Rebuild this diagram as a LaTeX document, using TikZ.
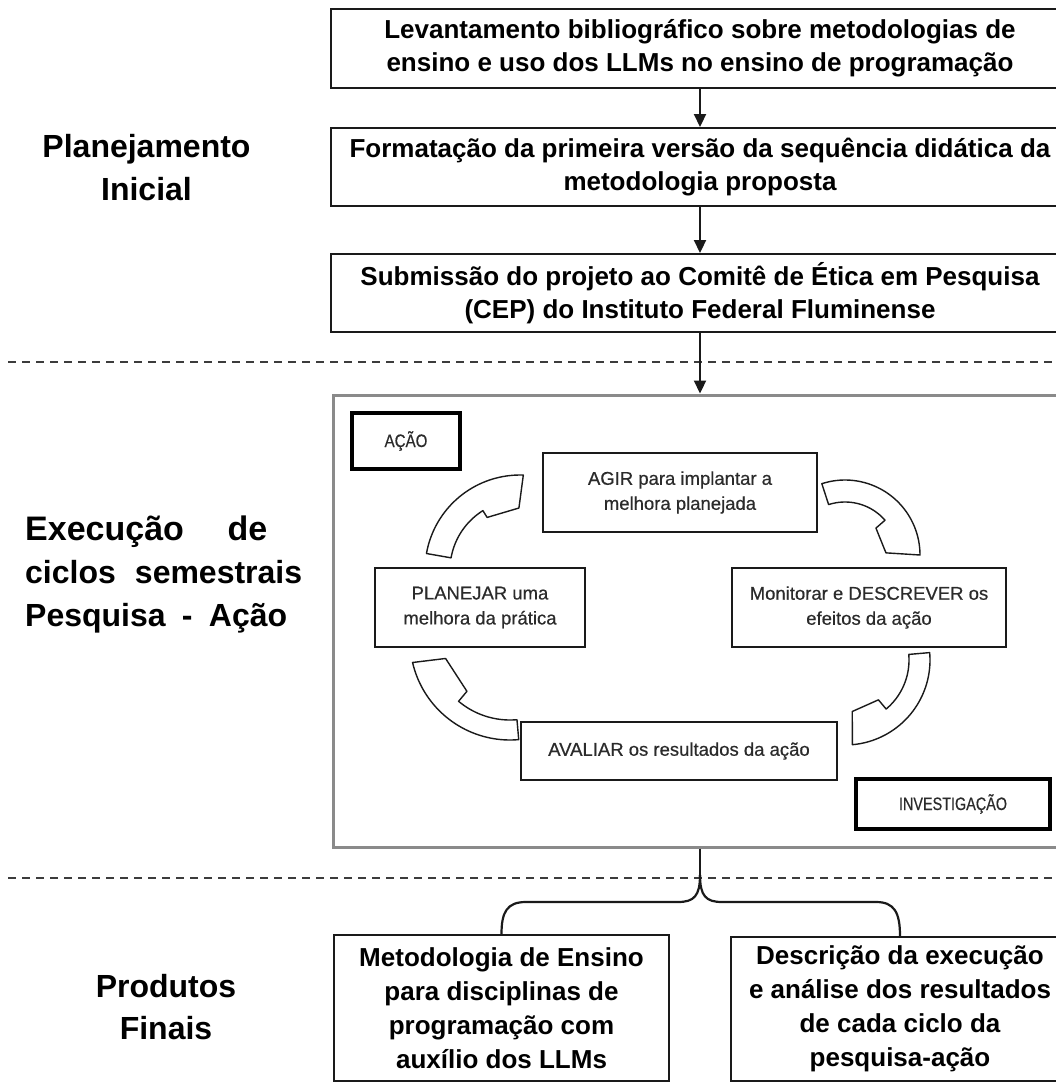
\documentclass[tikz,border=0pt]{standalone}
\usepackage{fontspec}
\usepackage{graphicx}
\setmainfont{Liberation Sans}
\newfontfamily\cycfont[FakeBold=0.5]{Liberation Sans}
\usetikzlibrary{arrows.meta}
\definecolor{boxgray}{HTML}{8A8A8A}
\definecolor{ink}{HTML}{1A1A1A}
\definecolor{cyctext}{HTML}{2B2B2B}
\tikzset{
  mainbox/.style={draw=ink, line width=2pt, fill=white, align=center,
    font=\fontsize{26}{33}\selectfont\bfseries, inner sep=0pt},
  flowarrow/.style={draw=ink, line width=2.2pt, -{Triangle[length=13pt,width=12pt]}},
  framebox/.style={draw=boxgray, line width=3pt, fill=white, inner sep=0pt},
  cycbox/.style={draw=ink, line width=2.5pt, fill=white, align=center,
    font=\cycfont\fontsize{18.5}{25}\selectfont, text=cyctext, inner sep=0pt},
  tagbox/.style={draw=black, line width=4.5pt, fill=white, inner sep=0pt,
    font=\cycfont\fontsize{18}{22}\selectfont, text=cyctext},
  sidelabel/.style={font=\fontsize{32}{43}\selectfont\bfseries, inner sep=0pt},
  divider/.style={draw=ink!85, line width=1.6pt, dash pattern=on 8pt off 6pt},
  hollow/.style={draw=ink, line width=1.4pt, fill=white, line join=round},
  bracket/.style={draw=ink, line width=2.2pt},
}
\newcommand\cycarrow[8]{%
  \draw[hollow] plot[domain=#5:#7, samples=40] ({#1+#4*cos(\x)},{#2+#4*sin(\x)})
    -- ({#1+(#3-#8)*cos(#7-3)},{#2+(#3-#8)*sin(#7-3)})
    -- ({#1+(#3-#8)*cos(#6)},{#2+(#3-#8)*sin(#6)})
    -- plot[domain=#6:#5, samples=40] ({#1+#3*cos(\x)},{#2+#3*sin(\x)})
    -- cycle;}
\begin{document}
\begin{tikzpicture}[x=1pt, y=-1pt]
\path[use as bounding box] (0,0) rectangle (1056,1084);
\clip (0,0) rectangle (1056,1084);
\fill[white] (0,0) rectangle (1056,1084);

% side labels
\node[sidelabel, anchor=base] (pl1) at (146.5,157) {Planejamento};
\node[sidelabel, anchor=base] (pl2) at (146.5,200) {Inicial};
\node[sidelabel, anchor=base west, font=\fontsize{34}{43}\selectfont\bfseries] (ex1) at (25,540) {\makebox[242pt][s]{Execução de}};
\node[sidelabel, anchor=base west] (ex2) at (25,583) {\makebox[277pt][s]{ciclos semestrais}};
\node[sidelabel, anchor=base west] (ex3) at (25,626) {\makebox[262pt][s]{Pesquisa - Ação}};
\node[sidelabel, anchor=base] (pf1) at (166,997) {Produtos};
\node[sidelabel, anchor=base] (pf2) at (166,1039) {Finais};

% dividers
\coordinate (d1a) at (8,362); \coordinate (d1b) at (1060,362);
\coordinate (d2a) at (8,878); \coordinate (d2b) at (1060,878);
\draw[divider] (d1a) -- (d1b);
\draw[divider] (d2a) -- (d2b);

% planning boxes
\node[mainbox, minimum width=738pt, minimum height=79pt] (b1) at (700,48.5)
  {Levantamento bibliográfico sobre metodologias de\\ensino e uso dos LLMs no ensino de programação};
\node[mainbox, minimum width=738pt, minimum height=78pt] (b2) at (700,167)
  {Formatação da primeira versão da sequência didática da\\metodologia proposta};
\node[mainbox, minimum width=738pt, minimum height=78pt] (b3) at (700,293)
  {Submissão do projeto ao Comitê de Ética em Pesquisa\\(CEP) do Instituto Federal Fluminense};

% big frame
\node[framebox, minimum width=734pt, minimum height=452pt] (frame) at (700,621) {};

\draw[flowarrow] (b1.south) -- (b2.north);
\draw[flowarrow] (b2.south) -- (b3.north);
\draw[flowarrow] (b3.south) -- (frame.north);

% cycle arrows
\cycarrow{520}{570}{70}{95}{190}{238}{272}{8}
\cycarrow{845}{555}{53}{75}{252}{319}{360}{12}
\cycarrow{845}{660}{64}{85}{-5}{50}{85}{12}
\cycarrow{510}{640}{80}{100}{85}{130}{167}{13}

% cycle boxes
\node[tagbox, minimum width=108pt, minimum height=56pt] (acao) at (406,441) {\scalebox{0.84}[1]{AÇÃO}};
\node[tagbox, minimum width=194pt, minimum height=50pt] (invest) at (953,804) {\scalebox{0.8}[1]{INVESTIGAÇÃO}};
\node[cycbox, minimum width=274pt, minimum height=79pt] (agir) at (680,492.5)
  {AGIR para implantar a\\melhora planejada};
\node[cycbox, minimum width=210pt, minimum height=79pt] (planejar) at (480,607.5)
  {PLANEJAR uma\\melhora da prática};
\node[cycbox, minimum width=274pt, minimum height=79pt] (monitorar) at (869,607.5)
  {Monitorar e DESCREVER os\\efeitos da ação};
\node[cycbox, minimum width=316pt, minimum height=58pt] (avaliar) at (679,751)
  {AVALIAR os resultados da ação};

% products
\node[mainbox, minimum width=335pt, minimum height=146pt, font=\fontsize{26}{34}\selectfont\bfseries] (prodL) at (501.5,1008)
  {Metodologia de Ensino\\para disciplinas de\\programação com\\auxílio dos LLMs};
\node[mainbox, minimum width=338pt, minimum height=144pt, font=\fontsize{26}{34}\selectfont\bfseries] (prodR) at (900,1009)
  {Descrição da execução\\e análise dos resultados\\de cada ciclo da\\pesquisa-ação};

% bracket
\coordinate (fork) at (700,875);
\draw[bracket] (frame.south) -- (fork);
\draw[bracket] (fork) .. controls (700,896) and (694,902) .. (678,902) -- (526,902)
  .. controls (507,902) and (501.5,912) .. (prodL.north);
\draw[bracket] (fork) .. controls (700,896) and (706,902) .. (722,902) -- (876,902)
  .. controls (894,902) and (900,912) .. (prodR.north);
\end{tikzpicture}
\end{document}
